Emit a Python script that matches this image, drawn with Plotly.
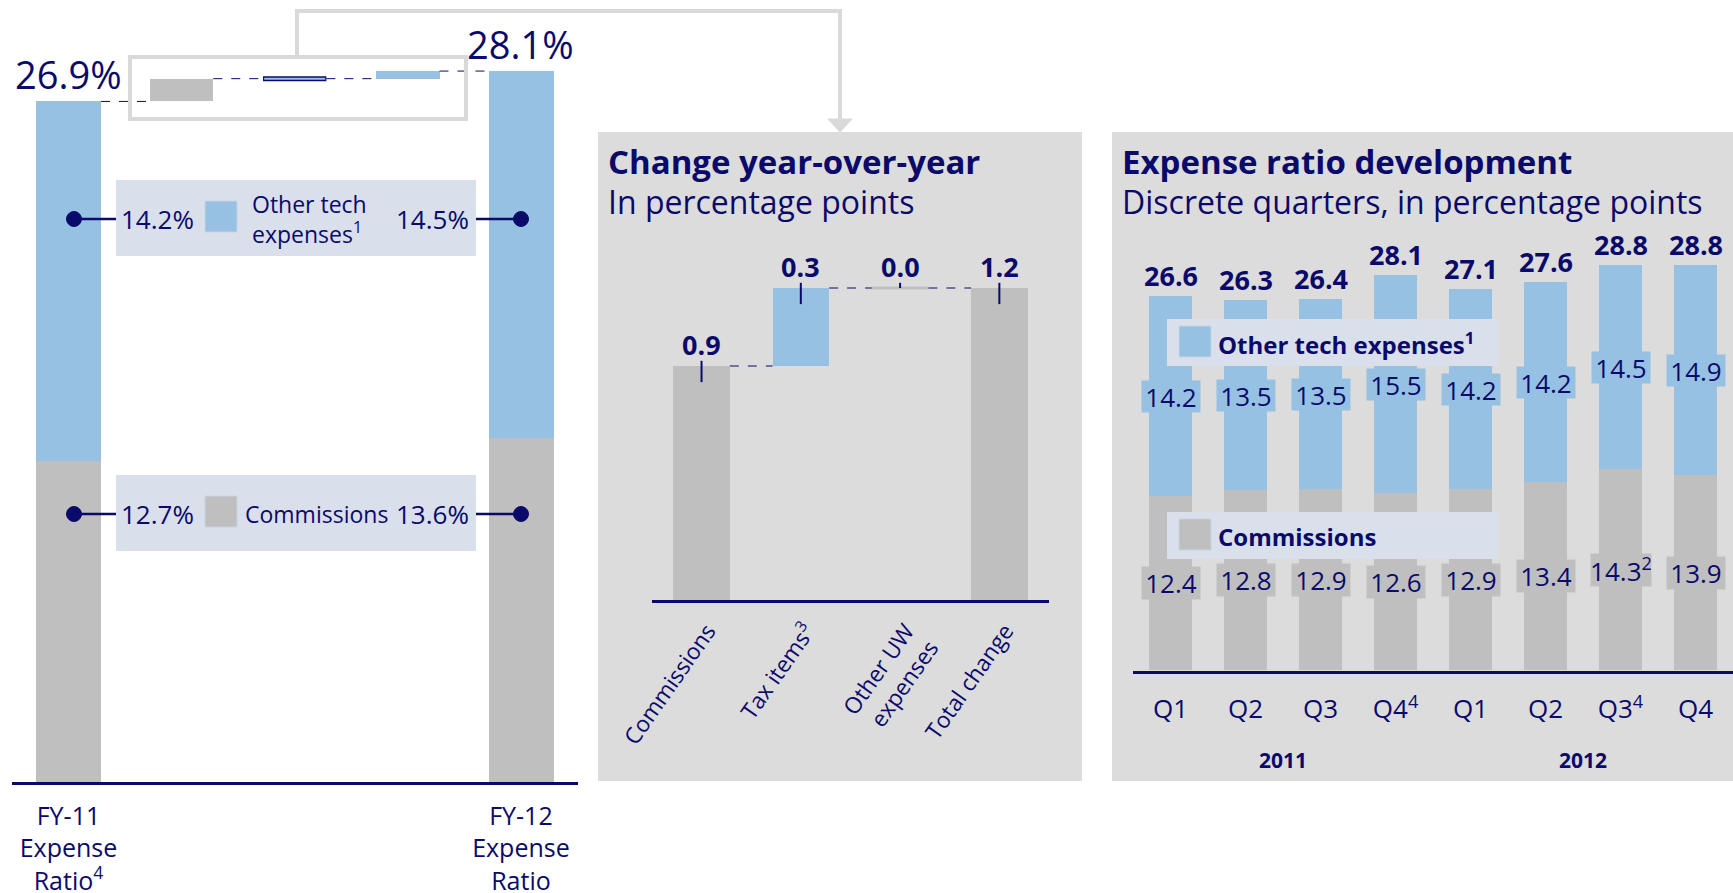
import plotly.graph_objects as go

W, H = 1733, 893
NAVY = "#0a0a6b"
BLUE = "#96c1e3"
GRAY = "#bfbfbf"
PANEL = "#dcdcdc"
LAV = "#d9dfeb"
LINEGRAY = "#d9d9d9"
FONT = "Open Sans"

# ---------------- data ----------------
fy_labels = ["FY-11<br>Expense<br>Ratio<sup>4</sup>", "FY-12<br>Expense<br>Ratio"]
fy_commissions = [12.7, 13.6]
fy_other_tech = [14.2, 14.5]
fy_totals = [26.9, 28.1]

# bridge in the small box (order as drawn): commissions, other UW, tax items
bridge_steps = [0.9, 0.0, 0.3]
bridge_colors = [GRAY, "outline", BLUE]

yoy_categories = ["Commissions", "Tax items<sup>3</sup>", "Other UW<br>expenses", "Total change"]
yoy_changes = [0.9, 0.3, 0.0, 1.2]
yoy_colors = [GRAY, BLUE, GRAY, GRAY]

quarters = ["Q1", "Q2", "Q3", "Q4<sup>4</sup>", "Q1", "Q2", "Q3<sup>4</sup>", "Q4"]
quarter_years = ["2011", "2011", "2011", "2011", "2012", "2012", "2012", "2012"]
q_commissions = [12.4, 12.8, 12.9, 12.6, 12.9, 13.4, 14.3, 13.9]
q_other_tech = [14.2, 13.5, 13.5, 15.5, 14.2, 14.2, 14.5, 14.9]
q_totals = [26.6, 26.3, 26.4, 28.1, 27.1, 27.6, 28.8, 28.8]
q_comm_notes = ["", "", "", "", "", "", "<sup>2</sup>", ""]


def px(x):
    return x / W


def py(y):
    return 1 - y / H


fig = go.Figure()
shapes = []
annos = []

# ---------------- left panel ----------------
n_bridge = len(bridge_steps)
fy_x = [0, n_bridge + 1]
BW_FY = 0.575
BW_MINI = 0.56

fig.add_trace(go.Bar(x=fy_x, y=fy_commissions, width=BW_FY, marker=dict(color=GRAY, line_width=0),
                     xaxis="x", yaxis="y", showlegend=False, hoverinfo="skip"))
fig.add_trace(go.Bar(x=fy_x, y=fy_other_tech, base=fy_commissions, width=BW_FY,
                     marker=dict(color=BLUE, line_width=0),
                     xaxis="x", yaxis="y", showlegend=False, hoverinfo="skip"))

level = fy_totals[0]
levels = [level]
for i, (v, c) in enumerate(zip(bridge_steps, bridge_colors)):
    xi = i + 1
    if v == 0:
        fig.add_trace(go.Scatter(x=[xi - BW_MINI / 2, xi + BW_MINI / 2], y=[level, level], mode="lines",
                                 line=dict(color=NAVY, width=5), xaxis="x", yaxis="y",
                                 showlegend=False, hoverinfo="skip"))
        fig.add_trace(go.Scatter(x=[xi - BW_MINI / 2 + 0.01, xi + BW_MINI / 2 - 0.01], y=[level, level],
                                 mode="lines", line=dict(color=BLUE, width=2), xaxis="x", yaxis="y",
                                 showlegend=False, hoverinfo="skip"))
    else:
        fig.add_trace(go.Bar(x=[xi], y=[v], base=[level], width=BW_MINI,
                             marker=dict(color=c, line_width=0), xaxis="x", yaxis="y",
                             showlegend=False, hoverinfo="skip"))
    level = level + v
    levels.append(level)

# dashed connectors in the bridge
for i in range(n_bridge + 1):
    w_left = BW_FY if i == 0 else BW_MINI
    w_right = BW_FY if i == n_bridge else BW_MINI
    lv = levels[i]
    fig.add_trace(go.Scatter(x=[i + w_left / 2, i + 1 - w_right / 2], y=[lv, lv], mode="lines",
                             line=dict(color=NAVY, width=1, dash="dash"), xaxis="x", yaxis="y",
                             showlegend=False, hoverinfo="skip"))

# big total labels
for xi, t in zip(fy_x, fy_totals):
    annos.append(dict(x=xi, y=t, xref="x", yref="y", text=f"{t:.1f}%", showarrow=False,
                      yanchor="middle", yshift=27, font=dict(size=38, color=NAVY, family=FONT)))

# box around the bridge + connector to middle panel
shapes.append(dict(type="rect", xref="paper", yref="paper", x0=px(130), x1=px(466), y0=py(119), y1=py(57),
                   line=dict(color=LINEGRAY, width=4), fillcolor="rgba(0,0,0,0)", layer="above"))
shapes.append(dict(type="path", xref="paper", yref="paper",
                   path=f"M {px(297)},{py(57)} L {px(297)},{py(11)} L {px(840)},{py(11)} L {px(840)},{py(121)}",
                   line=dict(color=LINEGRAY, width=4), layer="above"))
shapes.append(dict(type="path", xref="paper", yref="paper",
                   path=f"M {px(828)},{py(119)} L {px(852)},{py(119)} L {px(840)},{py(132)} Z",
                   line=dict(color=LINEGRAY, width=1), fillcolor=LINEGRAY, layer="above"))

# legend rows in left panel
rows = [
    dict(yc=218, vals=[fy_other_tech[0], fy_other_tech[1]], color=BLUE, text="Other tech<br>expenses<sup>1</sup>", tx=250),
    dict(yc=513, vals=[fy_commissions[0], fy_commissions[1]], color=GRAY, text="Commissions", tx=243),
]
for r in rows:
    yc = r["yc"]
    shapes.append(dict(type="rect", xref="paper", yref="paper", x0=px(116), x1=px(476),
                       y0=py(yc + 38), y1=py(yc - 38), line_width=0, fillcolor=LAV, layer="below"))
    shapes.append(dict(type="rect", xref="paper", yref="paper", x0=px(205), x1=px(237),
                       y0=py(yc + 14), y1=py(yc - 17), line=dict(color="#c8d4e4", width=1),
                       fillcolor=r["color"], layer="above"))
    for (x0, x1) in [(74, 116), (476, 521)]:
        shapes.append(dict(type="line", xref="paper", yref="paper", x0=px(x0), x1=px(x1), y0=py(yc + 1),
                           y1=py(yc + 1), line=dict(color=NAVY, width=2.5), layer="above"))
    for cx in [74, 521]:
        shapes.append(dict(type="circle", xref="paper", yref="paper", x0=px(cx - 7.5), x1=px(cx + 7.5),
                           y0=py(yc + 8.5), y1=py(yc - 6.5), line=dict(color=NAVY, width=1),
                           fillcolor=NAVY, layer="above"))
    annos.append(dict(x=px(157), y=py(yc + 1), xref="paper", yref="paper", text=f"{r['vals'][0]:.1f}%",
                      showarrow=False, xanchor="center", yanchor="middle",
                      font=dict(size=26, color=NAVY, family=FONT)))
    annos.append(dict(x=px(432), y=py(yc + 1), xref="paper", yref="paper", text=f"{r['vals'][1]:.1f}%",
                      showarrow=False, xanchor="center", yanchor="middle",
                      font=dict(size=26, color=NAVY, family=FONT)))
    annos.append(dict(x=px(r["tx"]), y=py(yc + 1), xref="paper", yref="paper", text=r["text"],
                      showarrow=False, xanchor="left", yanchor="middle", align="left",
                      font=dict(size=23, color=NAVY, family=FONT)))

# ---------------- middle panel ----------------
shapes.append(dict(type="rect", xref="paper", yref="paper", x0=px(598), x1=px(1082), y0=py(781), y1=py(132),
                   line_width=0, fillcolor=PANEL, layer="below"))
annos.append(dict(x=px(606), y=py(161), xref="paper", yref="paper", text="<b>Change year-over-year</b>",
                  showarrow=False, xanchor="left", yanchor="middle", font=dict(size=33, color=NAVY, family=FONT)))
annos.append(dict(x=px(606), y=py(201), xref="paper", yref="paper", text="In percentage points",
                  showarrow=False, xanchor="left", yanchor="middle", font=dict(size=32, color=NAVY, family=FONT)))

BW_Y = 0.57
n_yoy = len(yoy_changes)
running = 0.0
tops = []
for i, (v, c) in enumerate(zip(yoy_changes, yoy_colors)):
    is_total = (i == n_yoy - 1)
    base = 0.0 if is_total else running
    if v == 0:
        fig.add_trace(go.Scatter(x=[i - BW_Y / 2, i + BW_Y / 2], y=[base, base], mode="lines",
                                 line=dict(color=GRAY, width=3), xaxis="x2", yaxis="y2",
                                 showlegend=False, hoverinfo="skip"))
    else:
        fig.add_trace(go.Bar(x=[i], y=[v], base=[base], width=BW_Y, marker=dict(color=c, line_width=0),
                             xaxis="x2", yaxis="y2", showlegend=False, hoverinfo="skip"))
    top = base + v
    tops.append(top)
    if not is_total:
        running = top
    # small tick at the bar top
    fig.add_trace(go.Scatter(x=[i, i], y=[top + 0.02, top - min(0.062, v)], mode="lines",
                             line=dict(color=NAVY, width=2), xaxis="x2", yaxis="y2",
                             showlegend=False, hoverinfo="skip"))
    annos.append(dict(x=i, y=top, xref="x2", yref="y2", text=f"<b>{v:.1f}</b>", showarrow=False,
                      yanchor="middle", yshift=21, font=dict(size=27, color=NAVY, family=FONT)))

for i in range(n_yoy - 1):
    lv = tops[i]
    fig.add_trace(go.Scatter(x=[i + BW_Y / 2, i + 1 - BW_Y / 2], y=[lv, lv], mode="lines",
                             line=dict(color=NAVY, width=1, dash="dash"), xaxis="x2", yaxis="y2",
                             showlegend=False, hoverinfo="skip"))

# ---------------- right panel ----------------
shapes.append(dict(type="rect", xref="paper", yref="paper", x0=px(1112), x1=1.0, y0=py(781), y1=py(132),
                   line_width=0, fillcolor=PANEL, layer="below"))
annos.append(dict(x=px(1120), y=py(161), xref="paper", yref="paper", text="<b>Expense ratio development</b>",
                  showarrow=False, xanchor="left", yanchor="middle", font=dict(size=33, color=NAVY, family=FONT)))
annos.append(dict(x=px(1120), y=py(201), xref="paper", yref="paper",
                  text="Discrete quarters, in percentage points",
                  showarrow=False, xanchor="left", yanchor="middle", font=dict(size=32, color=NAVY, family=FONT)))

qx = list(range(len(quarters)))
BW_Q = 0.575
fig.add_trace(go.Bar(x=qx, y=q_commissions, width=BW_Q, marker=dict(color=GRAY, line_width=0),
                     xaxis="x3", yaxis="y3", showlegend=False, hoverinfo="skip"))
fig.add_trace(go.Bar(x=qx, y=q_other_tech, base=q_commissions, width=BW_Q, marker=dict(color=BLUE, line_width=0),
                     xaxis="x3", yaxis="y3", showlegend=False, hoverinfo="skip"))

# legend boxes (over bars)
for yc, col, txt in [(342, BLUE, "<b>Other tech expenses<sup>1</sup></b>"), (535, GRAY, "<b>Commissions</b>")]:
    shapes.append(dict(type="rect", xref="paper", yref="paper", x0=px(1167), x1=px(1498),
                       y0=py(yc + 24), y1=py(yc - 23), line_width=0, fillcolor=LAV, layer="above"))
    shapes.append(dict(type="rect", xref="paper", yref="paper", x0=px(1179), x1=px(1211),
                       y0=py(yc + 15), y1=py(yc - 16), line=dict(color="#c8d4e4", width=1),
                       fillcolor=col, layer="above"))
    annos.append(dict(x=px(1216), y=py(yc + 1), xref="paper", yref="paper", text=txt, showarrow=False,
                      xanchor="left", yanchor="middle", font=dict(size=24, color=NAVY, family=FONT)))

for i in qx:
    c = q_commissions[i]
    o = q_other_tech[i]
    annos.append(dict(x=i, y=q_totals[i], xref="x3", yref="y3", text=f"<b>{q_totals[i]:.1f}</b>",
                      showarrow=False, yanchor="middle", yshift=21,
                      font=dict(size=27, color=NAVY, family=FONT)))
    annos.append(dict(x=i, y=c + o / 2, xref="x3", yref="y3", text=f"{o:.1f}", showarrow=False,
                      yanchor="middle", bgcolor=BLUE, width=58, height=31, borderpad=0,
                      font=dict(size=26, color=NAVY, family=FONT)))
    annos.append(dict(x=i, y=c / 2, xref="x3", yref="y3", text=f"{c:.1f}{q_comm_notes[i]}", showarrow=False,
                      yanchor="middle", bgcolor=GRAY, width=60 if q_comm_notes[i] else 58, height=32,
                      borderpad=0, font=dict(size=26, color=NAVY, family=FONT)))

for yr in dict.fromkeys(quarter_years):
    idx = [i for i, y in enumerate(quarter_years) if y == yr]
    annos.append(dict(x=sum(idx) / len(idx), y=py(760), xref="x3", yref="paper", text=f"<b>{yr}</b>",
                      showarrow=False, yanchor="middle", font=dict(size=21, color=NAVY, family=FONT)))

# ---------------- axes ----------------
axis_common = dict(showgrid=False, zeroline=False, showline=True, linecolor=NAVY, linewidth=2.5, ticks="",
                   fixedrange=True, automargin=False)
fig.update_layout(
    width=W, height=H, margin=dict(l=0, r=0, t=0, b=0, autoexpand=False), autosize=False,
    paper_bgcolor="white", plot_bgcolor="rgba(0,0,0,0)",
    barmode="overlay", bargap=0,
    font=dict(family=FONT, color=NAVY),
    xaxis=dict(domain=[px(11.9), px(577.5)], range=[-0.5, n_bridge + 1.5], tickmode="array", tickvals=fy_x,
               ticktext=fy_labels, tickfont=dict(size=25, color=NAVY, family=FONT), ticklabelstandoff=10,
               anchor="y", **axis_common),
    yaxis=dict(domain=[py(782), py(23)], range=[0, 30], visible=False, anchor="x", fixedrange=True,
               automargin=False),
    xaxis2=dict(domain=[px(651.9), px(1049)], range=[-0.5, n_yoy - 0.5], tickmode="array",
                tickvals=list(range(n_yoy)), ticktext=yoy_categories, tickangle=-55,
                tickfont=dict(size=22.6, color=NAVY, family=FONT), ticklabelstandoff=6, ticklabelshift=6,
                anchor="y2", **axis_common),
    yaxis2=dict(domain=[py(600), py(210)], range=[0, 1.5], visible=False, anchor="x2", fixedrange=True,
                automargin=False),
    xaxis3=dict(domain=[px(1133.1), 1.0], range=[-0.5, len(quarters) - 0.5], tickmode="array", tickvals=qx,
                ticktext=quarters, tickfont=dict(size=26, color=NAVY, family=FONT), ticklabelstandoff=14,
                anchor="y3", **axis_common),
    yaxis3=dict(domain=[py(670.5), py(220.3)], range=[0, 32], visible=False, anchor="x3", fixedrange=True,
                automargin=False),
    shapes=shapes, annotations=annos,
)

fig.write_html("out.html", config={"displayModeBar": False},
               post_script="document.body.style.margin='0px'; document.body.style.overflow='hidden';")
